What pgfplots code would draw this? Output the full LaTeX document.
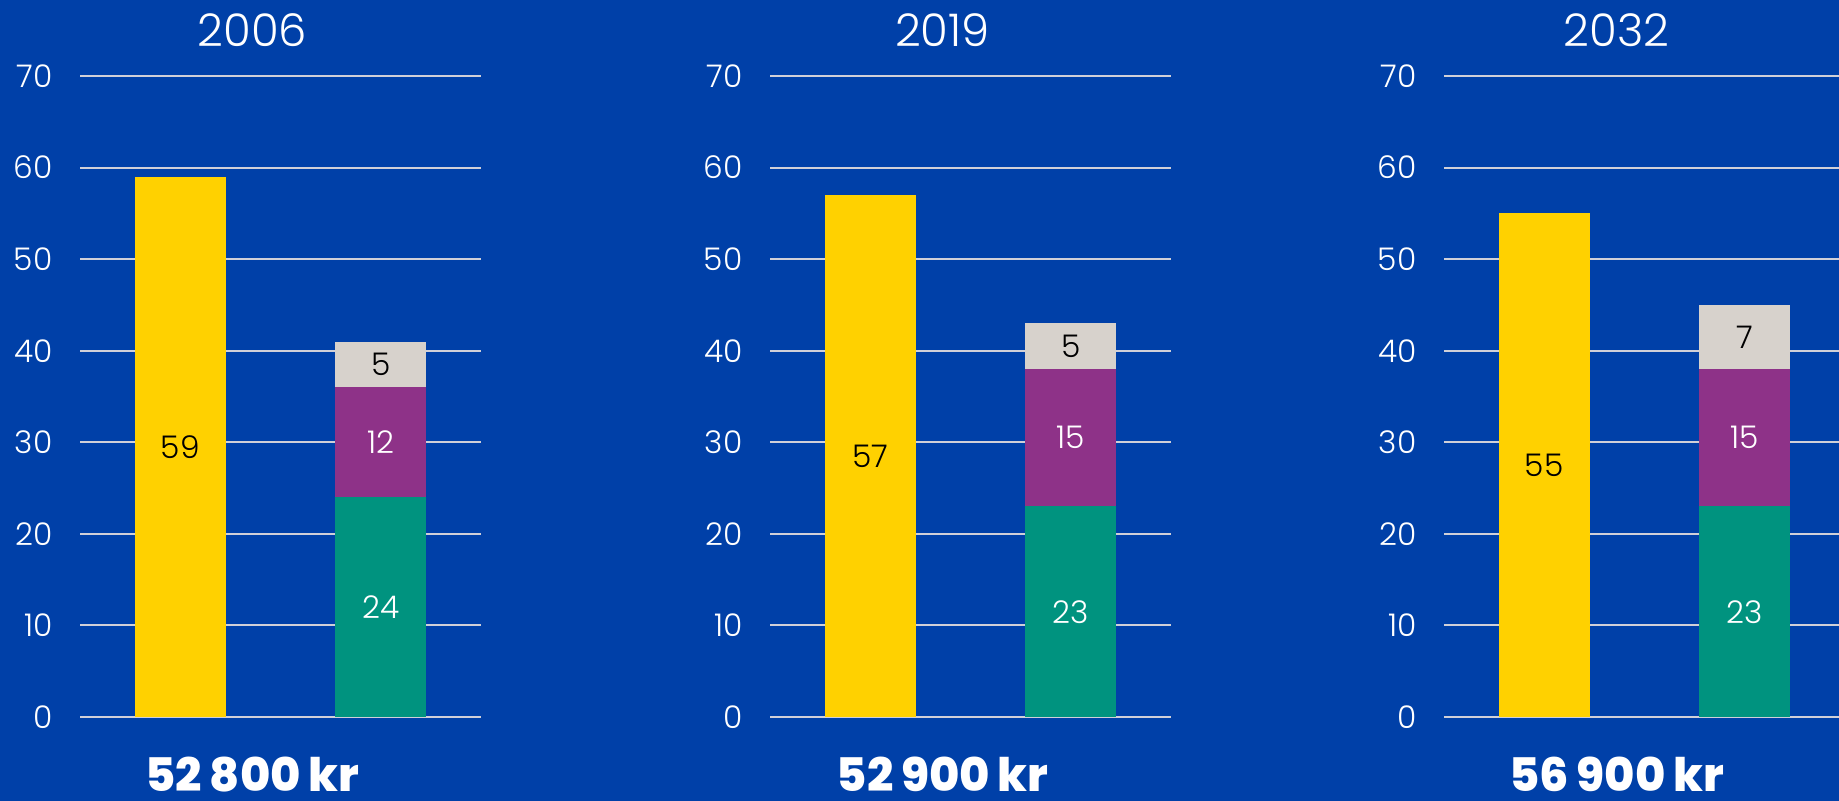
\documentclass[border=0pt]{standalone}
\usepackage{fontspec}
\setmainfont{Poppins}[UprightFont=* Light, BoldFont=* Bold]
\newfontfamily\heavyfont{Poppins}[UprightFont=* ExtraBold]
\usepackage{pgfplots}
\pgfplotsset{compat=1.18}
\definecolor{bgblue}{HTML}{0040A8}
\definecolor{cyellow}{HTML}{FFD100}
\definecolor{cgreen}{HTML}{00937F}
\definecolor{cpurple}{HTML}{8E3288}
\definecolor{cgray}{HTML}{D7D2CC}
\definecolor{gridc}{HTML}{D0D0D8}
\pgfplotsset{
  panel/.style={
    at={#1}, anchor=south west,
    scale only axis, width=160.4pt, height=256.4pt,
    xmin=0, xmax=4, ymin=0, ymax=70,
    axis line style={draw=none},
    xtick=\empty, ytick={0,10,...,70},
    major tick length=0pt, tick style={draw=none},
    ymajorgrids, grid style={gridc, line width=0.8pt},
    /pgf/number format/assume math mode=true,
    yticklabel style={font=\fontsize{12.5}{14}\selectfont, text=white, xshift=-7.5pt},
    every axis title/.style={at={(0.5,1)}, anchor=center, yshift=18.4pt, xshift=-11.2pt,
      font=\fontsize{18}{20}\selectfont, text=white},
    xlabel style={at={(0.5,0)}, anchor=base, yshift=-29.8pt, xshift=-11.2pt,
      font=\heavyfont\fontsize{18.5}{22}\selectfont, text=white},
    clip=false,
  },
  lblpanel/.style={
    at={#1}, anchor=south west,
    scale only axis, width=160.4pt, height=256.4pt,
    xmin=0, xmax=4, ymin=0, ymax=70, hide axis, clip=false,
  },
  bars/.style={ybar stacked, bar width=36.4pt},
  blk/.style={draw=none, nodes near coords, point meta=explicit symbolic,
    nodes near coords style={anchor=center, text=black, font=\fontsize{12.5}{14}\selectfont}},
  wht/.style={draw=none, nodes near coords, point meta=explicit symbolic,
    nodes near coords style={anchor=center, text=white, font=\fontsize{12.5}{14}\selectfont}},
}
\begin{document}
\begin{tikzpicture}
\useasboundingbox (0,0) rectangle (735.6pt,320.4pt);
\fill[bgblue] (0,0) rectangle (735.6pt,320.4pt);
% Panel 2006
\begin{axis}[panel={(32pt,33.6pt)}, bars, title={2006}, xlabel={52\,800\,kr}]
\addplot[fill=cyellow, draw=none] coordinates {(1,59) (3,0)};
\addplot[fill=cgreen, draw=none] coordinates {(1,0) (3,24)};
\addplot[fill=cpurple, draw=none] coordinates {(1,0) (3,12)};
\addplot[fill=cgray, draw=none] coordinates {(1,0) (3,5)};
\end{axis}
\begin{axis}[lblpanel={(32pt,33.6pt)}]
\addplot[blk] coordinates {(1,29.5)[59] (3,38.5)[5]};
\addplot[wht] coordinates {(3,12)[24] (3,30)[12]};
\end{axis}
% Panel 2019
\begin{axis}[panel={(308pt,33.6pt)}, bars, title={2019}, xlabel={52\,900\,kr}]
\addplot[fill=cyellow, draw=none] coordinates {(1,57) (3,0)};
\addplot[fill=cgreen, draw=none] coordinates {(1,0) (3,23)};
\addplot[fill=cpurple, draw=none] coordinates {(1,0) (3,15)};
\addplot[fill=cgray, draw=none] coordinates {(1,0) (3,5)};
\end{axis}
\begin{axis}[lblpanel={(308pt,33.6pt)}]
\addplot[blk] coordinates {(1,28.5)[57] (3,40.5)[5]};
\addplot[wht] coordinates {(3,11.5)[23] (3,30.5)[15]};
\end{axis}
% Panel 2032
\begin{axis}[panel={(577.6pt,33.6pt)}, bars, title={2032}, xlabel={56\,900\,kr}]
\addplot[fill=cyellow, draw=none] coordinates {(1,55) (3,0)};
\addplot[fill=cgreen, draw=none] coordinates {(1,0) (3,23)};
\addplot[fill=cpurple, draw=none] coordinates {(1,0) (3,15)};
\addplot[fill=cgray, draw=none] coordinates {(1,0) (3,7)};
\end{axis}
\begin{axis}[lblpanel={(577.6pt,33.6pt)}]
\addplot[blk] coordinates {(1,27.5)[55] (3,41.5)[7]};
\addplot[wht] coordinates {(3,11.5)[23] (3,30.5)[15]};
\end{axis}
\end{tikzpicture}
\end{document}
